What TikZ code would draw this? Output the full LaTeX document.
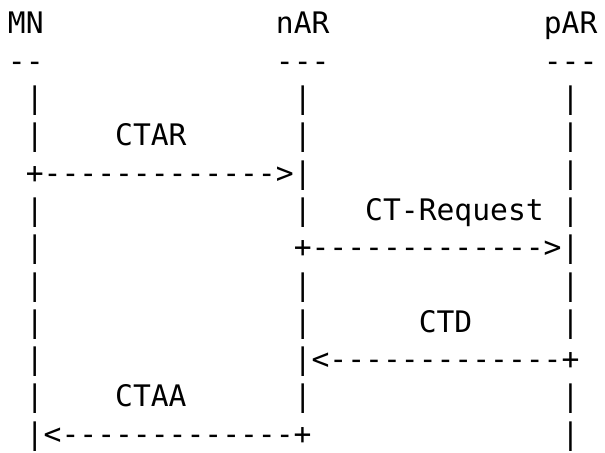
\documentclass[tikz,border=0pt]{standalone}
\usepackage{fontspec}
\usepackage{tikz}
\newfontfamily\asciifont[Ligatures=TeXOff]{DejaVu Sans Mono}

\begin{document}
\begin{tikzpicture}[
  x=8.93pt, y=-18.65pt,
  txt/.style={anchor=base west, inner sep=0pt, outer sep=0pt,
    font=\asciifont\fontsize{14.83pt}{18pt}\selectfont, text=black},
]
\useasboundingbox[fill=white] (-4pt,17pt) rectangle (298.5pt,-209.5pt);
% --- heads ---
\node[txt] (mn)  at (0,0)  {MN};
\node[txt] (nar) at (15,0) {nAR};
\node[txt] (par) at (30,0) {pAR};
\node[txt] (mnrule)  at (0,1)  {--};
\node[txt] (narrule) at (15,1) {---};
\node[txt] (parrule) at (30,1) {---};
% --- lifelines ---
\foreach \r in {2,3,5,6,7,8,9,10,11}
  \node[txt] (mn-\r) at (1,\r) {|};
\foreach \r in {2,3,4,5,7,8,9,10}
  \node[txt] (nar-\r) at (16,\r) {|};
\foreach \r in {2,3,4,5,6,7,8,10,11}
  \node[txt] (par-\r) at (31,\r) {|};
% --- messages ---
\node[txt] (ctar)    at (6,3)   {CTAR};
\node[txt] (ctararr) at (1,4)   {+------------->};
\node[txt] (ctreq)   at (20,5)  {CT-Request};
\node[txt] (ctreqarr) at (16,6) {+------------->};
\node[txt] (ctd)     at (23,8)  {CTD};
\node[txt] (ctdarr)  at (17,9)  {<-------------+};
\node[txt] (ctaa)    at (6,10)  {CTAA};
\node[txt] (ctaaarr) at (2,11)  {<-------------+};
\end{tikzpicture}
\end{document}
